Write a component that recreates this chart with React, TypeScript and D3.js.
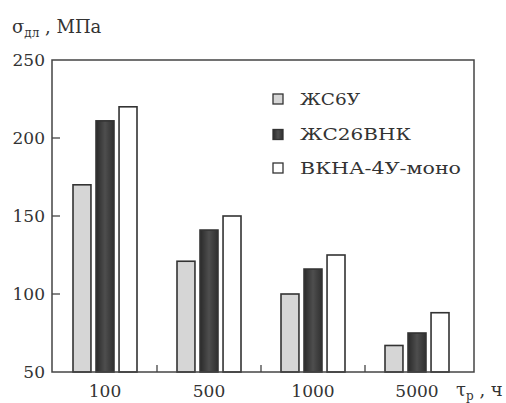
import React from 'react'
import * as d3 from 'd3'

const durations = ['100', '500', '1000', '5000']
const alloys = ['ЖС6У', 'ЖС26ВНК', 'ВКНА-4У-моно']
const zs6u = [170, 121, 100, 67]
const zs26 = [211, 141, 116, 75]
const vkna = [220, 150, 125, 88]
const yTicks = [50, 100, 150, 200, 250]

const fills = ['#d6d6d6', 'url(#dark)', '#ffffff']
// the scanned labels are stretched horizontally, so fit them to the measured widths
const legendWidths = [60, 111, 161]
const legendRows = [99, 134.5, 168]
const font = "'DejaVu Serif', serif"

export default function App() {
  const width = 506
  const height = 403
  const left = 52
  const right = 474
  const top = 60
  const bottom = 372

  const series = [zs6u, zs26, vkna]

  const y = d3.scaleLinear().domain([50, 250]).range([bottom, top])
  const x = d3.scaleBand().domain(durations).range([53, 469])
  const inner = d3
    .scaleBand()
    .domain(alloys)
    .range([20, x.bandwidth() - 20])
    .paddingInner(0.22)

  // dividers between groups on the x axis
  const dividers = durations.slice(1).map((d) => x(d) as number)

  return (
    <svg
      width={width}
      height={height}
      style={{ position: 'absolute', left: 0, top: 0, background: '#fff', fontFamily: font }}
    >
      <defs>
        <linearGradient id="dark" x1="0" x2="1" y1="0" y2="0">
          <stop offset="0" stopColor="#2a2a2a" />
          <stop offset="0.5" stopColor="#4e4e4e" />
          <stop offset="1" stopColor="#303030" />
        </linearGradient>
      </defs>

      {/* bars */}
      {durations.map((d, i) => (
        <g key={d} transform={`translate(${x(d)},0)`}>
          {alloys.map((a, j) => (
            <rect
              key={a}
              x={inner(a)}
              y={y(series[j][i])}
              width={inner.bandwidth()}
              height={bottom - y(series[j][i])}
              fill={fills[j]}
              stroke="#333"
              strokeWidth={1.6}
            />
          ))}
        </g>
      ))}

      {/* frame */}
      <rect
        x={left}
        y={top}
        width={right - left}
        height={bottom - top}
        fill="none"
        stroke="#444"
        strokeWidth={1.5}
      />

      {/* y ticks */}
      {yTicks.map((t) => (
        <g key={t}>
          {t > 50 && t < 250 && (
            <line x1={left} x2={left + 8} y1={y(t)} y2={y(t)} stroke="#444" strokeWidth={1.3} />
          )}
          <text x={45} y={y(t)} dy="0.35em" textAnchor="end" fontSize={17} fill="#333">
            {t}
          </text>
        </g>
      ))}

      {/* x ticks */}
      {dividers.map((dx, i) => (
        <line key={i} x1={dx} x2={dx} y1={bottom} y2={bottom - 7} stroke="#444" strokeWidth={1.3} />
      ))}
      {durations.map((d) => (
        <text
          key={d}
          x={(x(d) as number) + x.bandwidth() / 2}
          y={397}
          textAnchor="middle"
          fontSize={17}
          fill="#333"
        >
          {d}
        </text>
      ))}

      {/* axis titles */}
      <text x={12} y={33} fontSize={18} fill="#333">
        σ<tspan fontSize={12} dy={4}>дл</tspan>
        <tspan dy={-4}> , МПа</tspan>
      </text>
      <text x={456} y={396} fontSize={18} fill="#333">
        τ<tspan fontSize={12} dy={4}>р</tspan>
        <tspan dy={-4}> , ч</tspan>
      </text>

      {/* legend */}
      {alloys.map((a, j) => (
        <g key={a} transform={`translate(273,${legendRows[j]})`}>
          <rect x={0} y={-5} width={10} height={10} fill={fills[j]} stroke="#333" strokeWidth={1.3} />
          <text
            x={27}
            y={0}
            dy="0.35em"
            fontSize={17}
            fill="#333"
            textLength={legendWidths[j]}
            lengthAdjust="spacingAndGlyphs"
          >
            {a}
          </text>
        </g>
      ))}
    </svg>
  )
}
